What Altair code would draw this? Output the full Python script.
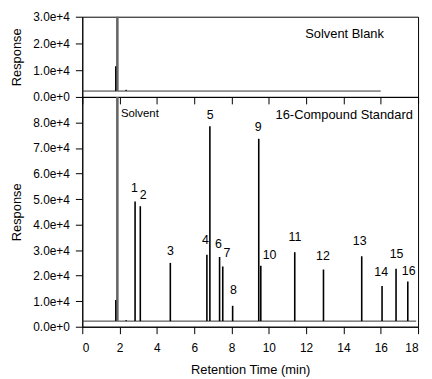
import altair as alt
import pandas as pd

FONT = "Liberation Sans"

# ---- data ----
baseline = 2200
blank_end = 16.0
std_end = 17.9

solvent_main_time = [1.88]
solvent_main_height = [200000]
minor_times = [1.79, 2.35]
blank_minor_heights = [11500, 2700]
std_minor_heights = [10500, 2600]

peak_ids = ["1", "2", "3", "4", "5", "6", "7", "8",
            "9", "10", "11", "12", "13", "14", "15", "16"]
peak_times = [2.83, 3.11, 4.72, 6.68, 6.84, 7.36, 7.53, 8.06,
              9.46, 9.57, 11.39, 12.93, 14.98, 16.07, 16.82, 17.45]
peak_heights = [49000, 47200, 25000, 28200, 78500, 27300, 23600, 8200,
                73600, 23900, 29200, 22400, 27600, 16000, 22700, 17700]
label_times = [2.8, 3.27, 4.72, 6.6, 6.86, 7.3, 7.75, 8.1,
               9.43, 10.04, 11.4, 12.9, 14.87, 16.02, 16.85, 17.5]
label_resp = [54500, 51500, 29800, 34000, 83000, 32500, 29000, 14500,
              78200, 28200, 35300, 27600, 33500, 21300, 28600, 22000]

x_ticks = [0, 2, 4, 6, 8, 10, 12, 14, 16, 18]
top_y_ticks = [0, 10000, 20000, 30000]
bot_y_ticks = [0, 10000, 20000, 30000, 40000, 50000, 60000, 70000, 80000]

W = 339
xscale = alt.Scale(domain=[0, 18], nice=False, zero=False)
ytop = alt.Scale(domain=[0, 30000], nice=False)
ybot = alt.Scale(domain=[0, 90000], nice=False)


def yaxis(vals):
    return alt.Axis(values=vals, format=".1e", title="Response", tickSize=7,
                    grid=False, labelPadding=6, titlePadding=9, labelOverlap=False,
                    domainColor="black", tickColor="black")


top_xaxis = alt.Axis(values=x_ticks, labels=False, title=None, tickSize=7,
                     domainColor="black", tickColor="black", grid=False)
bot_xaxis = alt.Axis(values=x_ticks, title="Retention Time (min)", tickSize=7,
                     grid=False, labelPadding=9, titlePadding=10, labelOverlap=False,
                     domainColor="black", tickColor="black")


def enc_xy(xf, yf, xaxis, scale_y, yvals):
    return dict(
        x=alt.X(xf, scale=xscale, axis=xaxis),
        y=alt.Y(yf, scale=scale_y, axis=yaxis(yvals)),
    )


def panel(scale_y, yvals, end, minor_heights, xaxis):
    base = pd.DataFrame({"t0": [0.0], "t1": [end], "b": [baseline]})
    main = pd.DataFrame({"t": solvent_main_time, "h": solvent_main_height,
                         "b": [baseline] * len(solvent_main_time)})
    minor = pd.DataFrame({"t": minor_times, "h": minor_heights,
                          "b": [baseline] * len(minor_times)})
    l_base = alt.Chart(base).mark_rule(color="#333", strokeWidth=1).encode(
        x2="t1:Q", **enc_xy("t0:Q", "b:Q", xaxis, scale_y, yvals))
    l_main = alt.Chart(main).mark_rule(color="#666", strokeWidth=2.6, clip=True).encode(
        y2="h:Q", **enc_xy("t:Q", "b:Q", xaxis, scale_y, yvals))
    l_minor = alt.Chart(minor).mark_rule(color="black", strokeWidth=1.3).encode(
        y2="h:Q", **enc_xy("t:Q", "b:Q", xaxis, scale_y, yvals))
    return [l_base, l_main, l_minor]


# ---- top panel: solvent blank ----
blank_text = pd.DataFrame({"t": [14.06], "r": [23700], "s": ["Solvent Blank"]})
top_text = alt.Chart(blank_text).mark_text(fontSize=13, font=FONT, color="black").encode(
    text="s:N", **enc_xy("t:Q", "r:Q", top_xaxis, ytop, top_y_ticks))
top = alt.layer(*panel(ytop, top_y_ticks, blank_end, blank_minor_heights, top_xaxis),
                top_text).properties(width=W, height=81)

# ---- bottom panel: 16-compound standard ----
std_peaks = pd.DataFrame({"t": peak_times, "h": peak_heights,
                          "b": [baseline] * len(peak_times)})
std_labels = pd.DataFrame({"t": label_times, "r": label_resp, "s": peak_ids})
bot_peaks = alt.Chart(std_peaks).mark_rule(color="black", strokeWidth=1.6).encode(
    y2="h:Q", **enc_xy("t:Q", "b:Q", bot_xaxis, ybot, bot_y_ticks))
bot_labels = alt.Chart(std_labels).mark_text(fontSize=12.5, font=FONT, color="black").encode(
    text="s:N", **enc_xy("t:Q", "r:Q", bot_xaxis, ybot, bot_y_ticks))
solv_text = alt.Chart(pd.DataFrame({"t": [2.07], "r": [83300], "s": ["Solvent"]})).mark_text(
    fontSize=11.5, font=FONT, color="black", align="left").encode(
    text="s:N", **enc_xy("t:Q", "r:Q", bot_xaxis, ybot, bot_y_ticks))
std_text = alt.Chart(pd.DataFrame({"t": [17.72], "r": [83100], "s": ["16-Compound Standard"]})).mark_text(
    fontSize=13, font=FONT, color="black", align="right").encode(
    text="s:N", **enc_xy("t:Q", "r:Q", bot_xaxis, ybot, bot_y_ticks))
bottom = alt.layer(*panel(ybot, bot_y_ticks, std_end, std_minor_heights, bot_xaxis),
                   bot_peaks, bot_labels, solv_text, std_text).properties(width=W, height=232)

chart = alt.vconcat(top, bottom, spacing=0, bounds="flush").properties(
    padding={"left": 2, "top": 0, "right": 5, "bottom": 2}
).configure_view(stroke="black", strokeWidth=1).configure_axis(
    labelFont=FONT, titleFont=FONT, labelFontSize=12, titleFontSize=13,
    titleFontWeight="normal", labelColor="black", titleColor="black"
)

chart.save("out.html", embed_options={"renderer": "svg", "actions": False})
